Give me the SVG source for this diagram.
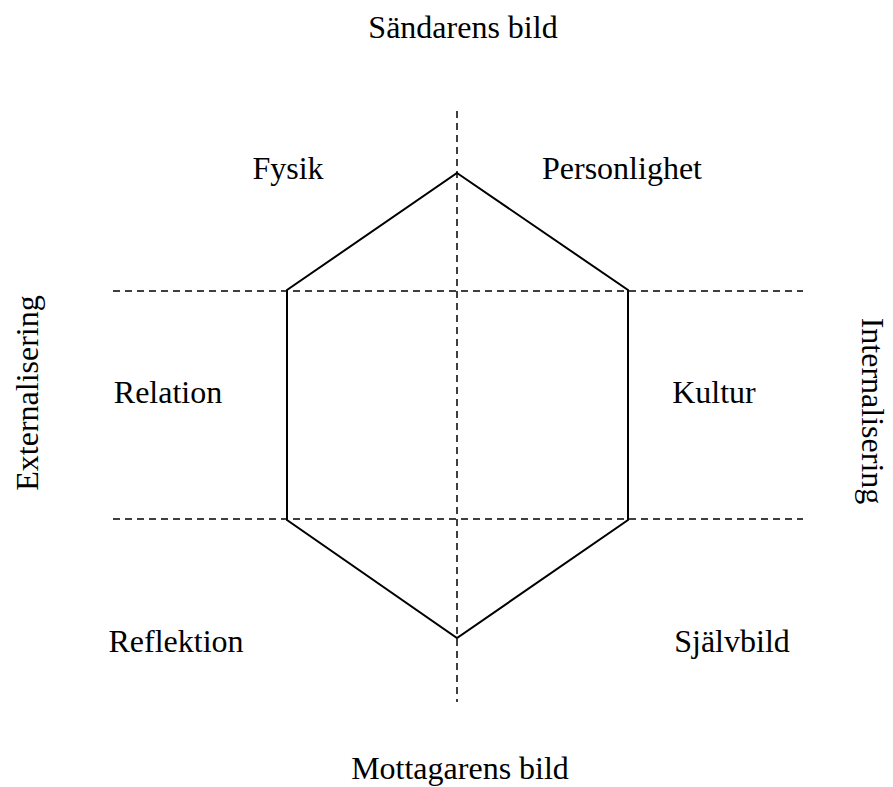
<svg xmlns="http://www.w3.org/2000/svg" width="893" height="787" viewBox="0 0 893 787">
<style>
.lbl{font-family:"Liberation Serif","Times New Roman",serif;font-size:32px;fill:#000;text-anchor:middle}
.dash{stroke:#000;stroke-width:1.5;stroke-dasharray:7,5;fill:none}
.hex{stroke:#000;stroke-width:2;fill:none;stroke-linejoin:miter}
</style>
<rect width="893" height="787" fill="#fff"/>
<g id="connectors">
<line class="dash" x1="457" y1="111" x2="457" y2="702"/>
<line class="dash" x1="113" y1="291" x2="803" y2="291"/>
<line class="dash" x1="113" y1="519" x2="803" y2="519"/>
</g>
<g id="hexagon">
<polygon class="hex" points="457,173 628,290 628,520 457,638 287,520 287,290"/>
</g>
<g id="sandarens"><text class="lbl" x="463" y="38">Sändarens bild</text></g>
<g id="mottagarens"><text class="lbl" x="460" y="779">Mottagarens bild</text></g>
<g id="fysik"><text class="lbl" x="288" y="179">Fysik</text></g>
<g id="personlighet"><text class="lbl" x="622" y="179">Personlighet</text></g>
<g id="relation"><text class="lbl" x="168" y="403">Relation</text></g>
<g id="kultur"><text class="lbl" x="714" y="403">Kultur</text></g>
<g id="reflektion"><text class="lbl" x="176" y="652">Reflektion</text></g>
<g id="sjalvbild"><text class="lbl" x="732" y="652">Självbild</text></g>
<g id="externalisering"><text class="lbl" transform="translate(38,393) rotate(-90)">Externalisering</text></g>
<g id="internalisering"><text class="lbl" transform="translate(862,411) rotate(90)">Internalisering</text></g>
</svg>
